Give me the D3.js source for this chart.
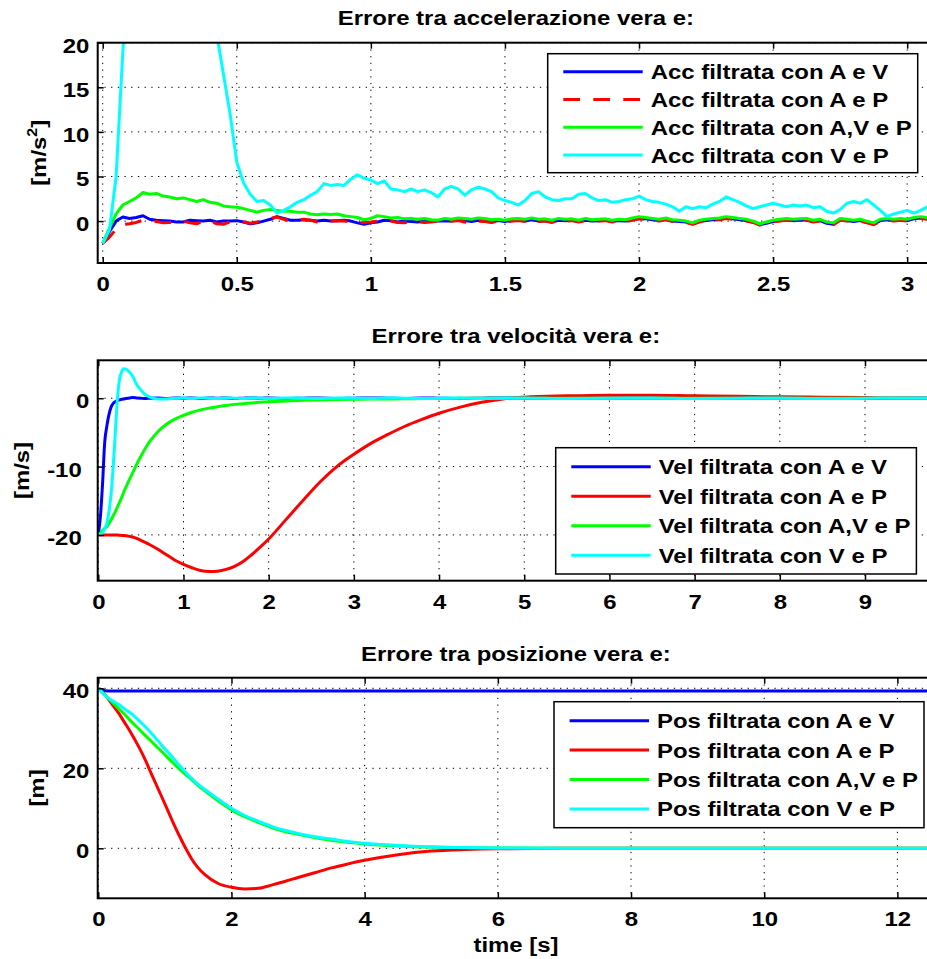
<!DOCTYPE html>
<html><head><meta charset="utf-8">
<script src="https://cdn.jsdelivr.net/npm/d3@7"></script>
<style>
body{margin:0;background:#fff}
svg{display:block}
text{font-family:"Liberation Sans",Arial,Helvetica,sans-serif;font-weight:bold;fill:#000}
</style></head><body>
<svg id="chart" width="927" height="959"></svg>
<script>
// ---------- DATA ----------
const seriesColors = ["#0000ff","#ff0000","#00ff00","#00ffff"];
const titles = ["Errore tra accelerazione vera e:","Errore tra velocità vera e:","Errore tra posizione vera e:"];
const accNames = ["Acc filtrata con A e V","Acc filtrata con A e P","Acc filtrata con A,V e P","Acc filtrata con V e P"];
const velNames = ["Vel filtrata con A e V","Vel filtrata con A e P","Vel filtrata con A,V e P","Vel filtrata con V e P"];
const posNames = ["Pos filtrata con A e V","Pos filtrata con A e P","Pos filtrata con A,V e P","Pos filtrata con V e P"];

const accXTicks = [0,0.5,1,1.5,2,2.5,3];
const accXLabels = ["0","0.5","1","1.5","2","2.5","3"];
const accYTicks = [0,5,10,15,20];
const accYLabels = ["0","5","10","15","20"];
const velXTicks = [0,1,2,3,4,5,6,7,8,9];
const velXLabels = ["0","1","2","3","4","5","6","7","8","9"];
const velYTicks = [-20,-10,0];
const velYLabels = ["-20","-10","0"];
const posXTicks = [0,2,4,6,8,10,12];
const posXLabels = ["0","2","4","6","8","10","12"];
const posYTicks = [0,20,40];
const posYLabels = ["0","20","40"];

const accT = [0,0.025,0.05,0.075,0.1,0.125,0.15,0.175,0.2,0.225,
0.25,0.275,0.3,0.325,0.35,0.375,0.4,0.425,0.45,0.475,
0.5,0.525,0.55,0.575,0.6,0.625,0.65,0.675,0.7,0.725,
0.75,0.775,0.8,0.825,0.85,0.875,0.9,0.925,0.95,0.975,
1,1.025,1.05,1.075,1.1,1.125,1.15,1.175,1.2,1.225,
1.25,1.275,1.3,1.325,1.35,1.375,1.4,1.425,1.45,1.475,
1.5,1.525,1.55,1.575,1.6,1.625,1.65,1.675,1.7,1.725,
1.75,1.775,1.8,1.825,1.85,1.875,1.9,1.925,1.95,1.975,
2,2.025,2.05,2.075,2.1,2.125,2.15,2.175,2.2,2.225,
2.25,2.275,2.3,2.325,2.35,2.375,2.4,2.425,2.45,2.475,
2.5,2.525,2.55,2.575,2.6,2.625,2.65,2.675,2.7,2.725,
2.75,2.775,2.8,2.825,2.85,2.875,2.9,2.925,2.95,2.975,
3,3.025,3.05,3.075,3.1,3.125];
const accAV = [-2.5,-1.2,0.0,0.45,0.3,0.4,0.6,0.2,0.1,0.05,
0.0,-0.1,-0.1,0.1,0.05,0.0,0.1,-0.1,0.0,0.0,
0.05,-0.1,-0.3,-0.2,0.0,0.2,0.5,0.3,0.1,0.1,
0.15,0.1,0.0,0.1,0.0,0.05,0.1,0.0,-0.2,-0.35,
-0.2,-0.1,0.1,0.05,-0.1,0.0,-0.05,-0.1,0.0,-0.05,
0.0,0.05,0.0,0.1,0.05,-0.05,0.1,0.0,-0.1,0.05,
-0.05,0.05,0.1,0.0,0.15,0.0,0.05,-0.1,0.1,0.05,
0.1,-0.05,0.1,0.0,0.05,0.1,-0.05,0.05,0.0,0.15,
0.3,0.25,0.15,0.05,0.2,0.0,-0.05,-0.1,-0.3,-0.05,
0.05,0.15,0.2,0.35,0.25,0.15,0.05,-0.1,-0.4,-0.25,
-0.05,0.05,0.15,0.05,0.1,0.15,-0.05,0.05,-0.25,-0.35,
0.15,0.05,-0.05,0.05,-0.15,-0.35,0.05,0.15,0.05,0.15,
0.05,0.25,0.35,0.25,0.25,0.25];
const accAP = [-2.5,-1.8,-0.9,-0.4,-0.3,-0.15,0.1,0.0,-0.05,-0.2,
-0.15,-0.1,0.0,-0.2,-0.3,-0.05,0.0,-0.3,-0.35,-0.1,
0.0,-0.1,-0.25,-0.1,0.1,0.3,0.45,0.2,0.0,0.1,
0.2,0.1,-0.1,-0.05,0.0,0.05,0.0,-0.1,-0.2,-0.15,
-0.1,0.0,0.15,0.0,-0.15,-0.2,-0.05,-0.1,-0.15,-0.1,
0.0,-0.05,0.0,0.05,-0.1,-0.3,0.0,-0.05,-0.15,0.0,
-0.1,0.0,0.05,-0.05,0.1,-0.05,0.0,-0.15,0.05,0.0,
0.05,-0.1,0.05,-0.05,0.0,0.05,-0.1,0.0,-0.05,0.1,
0.25,0.2,0.1,0.0,0.15,-0.05,-0.1,-0.15,-0.35,-0.1,
0.0,0.1,0.15,0.3,0.2,0.1,0.0,-0.15,-0.45,-0.3,
-0.1,0.0,0.1,0.0,0.05,0.1,-0.1,0.0,-0.3,-0.4,
0.1,0.0,-0.1,0.0,-0.2,-0.4,0.0,0.1,0.0,0.1,
0.0,0.2,0.3,0.2,0.2,0.2];
const accAVP = [-2.5,-0.8,0.8,1.8,2.2,2.6,3.2,3.0,3.1,2.8,
2.7,2.5,2.6,2.4,2.2,2.4,2.1,2.0,1.7,1.6,
1.55,1.4,1.2,1.0,1.2,1.3,1.2,1.1,1.1,1.0,
1.0,0.8,0.7,0.8,0.75,0.8,0.6,0.5,0.4,0.15,
0.3,0.6,0.5,0.35,0.4,0.25,0.3,0.2,0.3,0.15,
0.1,0.3,0.2,0.35,0.3,0.2,0.35,0.3,0.15,0.2,
0.1,0.25,0.3,0.2,0.35,0.2,0.25,0.1,0.3,0.2,
0.25,0.1,0.3,0.15,0.2,0.25,0.1,0.2,0.15,0.35,
0.5,0.4,0.3,0.2,0.35,0.15,0.1,0.0,-0.2,0.1,
0.2,0.3,0.35,0.5,0.4,0.3,0.2,0.0,-0.3,-0.1,
0.1,0.2,0.3,0.2,0.25,0.3,0.1,0.2,-0.1,-0.2,
0.3,0.2,0.1,0.2,0.0,-0.2,0.2,0.3,0.2,0.3,
0.2,0.4,0.5,0.4,0.4,0.4];
const accVP = [-2.5,-1.0,5.0,19,30,37,40,42,43,42,
41,39,37,34,31,28,25,21,16.5,12.0,
6.6,4.3,3.0,2.2,2.3,1.8,0.9,1.2,1.6,2.1,
2.4,2.9,3.3,4.2,4.0,4.1,4.0,4.7,5.2,4.8,
4.6,4.2,4.5,3.6,3.5,3.3,3.6,3.3,3.5,3.2,
2.7,3.6,3.9,3.6,2.9,3.5,3.8,3.6,3.3,2.6,
2.3,2.1,1.8,2.3,3.1,3.3,2.7,2.4,2.3,2.5,
2.5,3.0,3.1,2.6,2.3,2.4,2.1,2.2,2.4,2.5,
2.8,2.4,2.2,2.1,1.9,1.6,1.1,1.6,1.4,1.6,
1.5,1.9,2.2,2.7,2.4,2.1,1.7,1.4,1.6,1.8,
2.0,1.8,1.6,1.8,1.7,1.8,1.5,1.6,1.1,0.9,
1.3,2.0,2.2,2.0,2.4,1.8,1.2,0.5,0.8,1.0,
1.2,0.9,1.2,1.6,2.0,2.2];

const velT = [0,0.025,0.05,0.075,0.1,0.125,0.15,0.175,0.2,0.225,
0.25,0.275,0.3,0.325,0.35,0.4,0.45,0.5,0.55,0.6,
0.7,0.8,0.9,1.0,1.1,1.2,1.3,1.4,1.5,1.6,
1.7,1.8,1.9,2.0,2.2,2.4,2.6,2.8,3.0,3.2,
3.4,3.6,3.8,4.0,4.25,4.5,4.75,5.0,5.5,6.0,
6.5,7.0,7.5,8.0,8.5,9.0,9.5,9.8];
const velAV = [-20,-17.3,-12.5,-6.5,-4.1,-2.4,-1.3,-0.75,-0.5,-0.35,
-0.25,-0.15,-0.1,-0.05,0.0,0.1,0.05,0.0,-0.05,0.0,
0.05,-0.05,0.05,0.0,0.05,-0.05,0.05,0.0,0.05,-0.05,
0.0,0.05,0.0,0.05,-0.05,0.0,0.05,-0.05,0.0,0.05,
0.0,-0.05,0.05,0.0,-0.05,0.0,0.05,0.0,-0.05,0.0,
0.05,-0.05,0.0,0.05,0.0,-0.05,0.0,0.0];
const velAP = [-20,-20,-20,-20,-20,-20,-20,-20,-20.02,-20.03,
-20.05,-20.07,-20.1,-20.13,-20.18,-20.3,-20.5,-20.8,-21.1,-21.4,
-22.1,-22.9,-23.7,-24.3,-24.8,-25.2,-25.35,-25.3,-25.05,-24.6,
-23.9,-22.9,-21.8,-20.6,-17.8,-15.0,-12.3,-10.0,-8.2,-6.6,
-5.3,-4.1,-3.1,-2.2,-1.3,-0.6,-0.1,0.15,0.35,0.45,
0.45,0.35,0.28,0.2,0.15,0.1,0.05,0.03];
const velAVP = [-20,-19.7,-19.35,-19.05,-18.8,-18.3,-17.8,-17.2,-16.6,-15.9,
-15.2,-14.5,-13.7,-13.0,-12.3,-11.0,-9.7,-8.5,-7.4,-6.4,
-4.9,-3.8,-3.05,-2.5,-2.05,-1.7,-1.45,-1.25,-1.05,-0.9,
-0.8,-0.7,-0.6,-0.5,-0.4,-0.3,-0.25,-0.2,-0.15,-0.12,
-0.1,-0.08,-0.05,-0.04,-0.02,0.0,0.0,0.0,0.0,0.0,
0.0,0.0,0.0,0.0,0.0,0.0,0.0,0.0];
const velVP = [-20,-19.9,-19.7,-19.1,-18.3,-16.6,-14.0,-10.0,-5.0,0.0,
2.8,3.9,4.3,4.25,4.0,3.3,2.0,1.2,0.55,0.2,
-0.1,-0.1,0.0,0.05,-0.05,0.05,0.0,-0.05,0.05,0.0,
-0.05,0.05,0.0,-0.05,0.05,0.0,-0.05,0.05,0.0,-0.05,
0.05,0.0,-0.05,0.0,0.05,-0.05,0.0,0.05,-0.05,0.0,
0.05,-0.05,0.0,0.05,-0.05,0.0,0.05,0.0];

const posT = [0,0.1,0.2,0.3,0.4,0.5,0.6,0.7,0.8,0.9,
1.0,1.1,1.2,1.3,1.4,1.5,1.6,1.8,2.0,2.2,
2.4,2.6,2.8,3.0,3.25,3.5,3.75,4.0,4.5,5.0,
5.5,6.0,7.0,8.0,9.0,10.0,11.0,12.0,12.6];
const posAV = [40,39.4,39.3,39.3,39.3,39.3,39.3,39.3,39.3,39.3,
39.3,39.3,39.3,39.3,39.3,39.3,39.3,39.3,39.3,39.3,
39.3,39.3,39.3,39.3,39.3,39.3,39.3,39.3,39.3,39.3,
39.3,39.3,39.3,39.3,39.3,39.3,39.3,39.3,39.3];
const posAP = [40,38.3,36.2,33.9,31.3,28.6,25.6,22.3,18.5,14.8,
11.1,7.3,3.7,0.4,-2.6,-4.9,-6.6,-8.8,-9.75,-10.15,
-10.0,-9.2,-8.3,-7.3,-6.1,-4.9,-3.9,-3.0,-1.6,-0.7,
-0.3,-0.1,0,0,0,0,0,0,0];
const posAVP = [40,38.3,36.7,35.0,33.4,31.6,30.0,28.3,26.7,25.0,
23.4,21.7,20.1,18.6,17.2,15.7,14.4,11.9,9.6,7.9,
6.5,5.2,4.2,3.5,2.7,2.0,1.5,1.1,0.6,0.3,
0.15,0.07,0.02,0,0,0,0,0,0];
const posVP = [40,38.2,37.0,36.0,34.8,33.6,32.1,30.5,28.7,26.8,
24.9,23.0,21.1,19.2,17.5,16.0,14.7,12.3,10.0,8.2,
6.8,5.5,4.5,3.7,2.9,2.3,1.7,1.25,0.7,0.35,
0.17,0.08,0.02,0,0,0,0,0,0];

// ---------- LAYOUT ----------
const svg = d3.select("#chart");
const L = 97.7, R = 934;
const FS = 21, SX = 1.14;

const panels = [
  {top:42.7, bottom:263, xDom:[-0.0187,3.1], yDom:[-4.7,20],
   xTicks:accXTicks, xLabels:accXLabels, yTicks:accYTicks, yLabels:accYLabels,
   t:accT, series:[accAV,accAP,accAVP,accVP], names:accNames, dashed:[false,true,false,false],
   title:titles[0], titleY:25, ylab:"acc", ylabX:45.5,
   legend:{x:547.7, y:53.7, first:18, step:27.8, h:119}, curve:d3.curveLinear},
  {top:360.3, bottom:580.7, xDom:[-0.007,9.81], yDom:[-26.7,5.55],
   xTicks:velXTicks, xLabels:velXLabels, yTicks:velYTicks, yLabels:velYLabels,
   t:velT, series:[velAV,velAP,velAVP,velVP], names:velNames, dashed:[false,false,false,false],
   title:titles[1], titleY:342.5, ylab:"[m/s]", ylabX:29,
   legend:{x:555.7, y:447.7, first:19, step:29.5, h:126.3}, curve:d3.curveMonotoneX},
  {top:677.7, bottom:898.3, xDom:[-0.009,12.55], yDom:[-12.5,42.65],
   xTicks:posXTicks, xLabels:posXLabels, yTicks:posYTicks, yLabels:posYLabels,
   t:posT, series:[posAV,posAP,posAVP,posVP], names:posNames, dashed:[false,false,false,false],
   title:titles[2], titleY:660.5, ylab:"[m]", ylabX:44,
   legend:{x:554, y:701.7, first:19, step:29.4, h:126}, curve:d3.curveMonotoneX}
];

function styleText(sel){
  sel.attr("font-family",'"Liberation Sans",Arial,sans-serif').attr("font-weight","bold")
     .attr("font-size",FS).attr("fill","#000");
  return sel;
}
// text placed at (px,py), widened horizontally like the original rendering
function wideText(parent, px, py, anchor, str, rot){
  const t = parent.append("text")
    .attr("transform",`translate(${px},${py})${rot?` rotate(${rot})`:""} scale(${SX},1)`)
    .attr("text-anchor",anchor).text(str);
  return styleText(t);
}

panels.forEach((p,pi)=>{
  const x = d3.scaleLinear().domain(p.xDom).range([L,R]);
  const y = d3.scaleLinear().domain(p.yDom).range([p.bottom,p.top]);
  const g = svg.append("g");
  const clipId = "clip"+pi;
  svg.append("clipPath").attr("id",clipId).append("rect")
    .attr("x",L).attr("y",p.top).attr("width",R-L).attr("height",p.bottom-p.top);

  // grid
  const grid = g.append("g").attr("stroke","#000").attr("stroke-width",1).attr("stroke-dasharray","1.3,5.4");
  grid.selectAll("line.gx").data(p.xTicks).join("line").attr("class","gx")
    .attr("x1",d=>x(d)).attr("x2",d=>x(d)).attr("y1",p.top).attr("y2",p.bottom);
  grid.selectAll("line.gy").data(p.yTicks).join("line").attr("class","gy")
    .attr("x1",L).attr("x2",R).attr("y1",d=>y(d)).attr("y2",d=>y(d));

  // series
  const line = d3.line().x((d,i)=>x(p.t[i])).y(d=>y(d)).curve(p.curve);
  const lg = g.append("g").attr("clip-path",`url(#${clipId})`);
  p.series.forEach((s,k)=>{
    lg.append("path").attr("d",line(s)).attr("fill","none")
      .attr("stroke",seriesColors[k]).attr("stroke-width",3)
      .attr("stroke-linejoin","round").attr("stroke-linecap","butt")
      .attr("stroke-dasharray",p.dashed[k]?"16.7,13.3":null);
  });

  // axes
  const xb = g.append("g").attr("transform",`translate(0,${p.bottom})`)
    .call(d3.axisBottom(x).tickValues(p.xTicks).tickFormat((d,i)=>p.xLabels[i]).tickSizeInner(-6).tickSizeOuter(0).tickPadding(13));
  const xt = g.append("g").attr("transform",`translate(0,${p.top})`)
    .call(d3.axisTop(x).tickValues(p.xTicks).tickFormat("").tickSizeInner(-6).tickSizeOuter(0));
  const yl = g.append("g").attr("transform",`translate(${L},0)`)
    .call(d3.axisLeft(y).tickValues(p.yTicks).tickFormat((d,i)=>p.yLabels[i]).tickSizeInner(-6).tickSizeOuter(0).tickPadding(8.4/SX));
  const yr = g.append("g").attr("transform",`translate(${R},0)`)
    .call(d3.axisRight(y).tickValues(p.yTicks).tickFormat("").tickSizeInner(-6).tickSizeOuter(0));
  [xb,xt,yl,yr].forEach(a=>{
    a.select(".domain").remove();
    a.selectAll(".tick line").attr("stroke","#000").attr("stroke-width",1.5);
  });
  styleText(xb.selectAll("text")).attr("transform",`scale(${SX},1)`);
  styleText(yl.selectAll("text").attr("dy","0.45em"))
    .attr("transform",d=> d<0 ? `translate(-7.6,0) scale(${SX},1)` : `scale(${SX},1)`);
  g.append("rect").attr("x",L).attr("y",p.top).attr("width",R-L).attr("height",p.bottom-p.top)
    .attr("fill","none").attr("stroke","#000").attr("stroke-width",2);

  // title
  wideText(g,(L+R)/2,p.titleY,"middle",p.title);

  // y label
  const cy = (p.top+p.bottom)/2;
  if(p.ylab==="acc"){
    const yt = wideText(g,p.ylabX,cy,"middle","",-90);
    yt.append("tspan").text("[m/s");
    yt.append("tspan").attr("font-size",14).attr("dy",-9).text("2");
    yt.append("tspan").attr("dy",9).text("]");
  } else wideText(g,p.ylabX,cy,"middle",p.ylab,-90);

  // legend
  const lgd = g.append("g");
  const box = lgd.append("rect").attr("x",p.legend.x).attr("y",p.legend.y).attr("height",p.legend.h)
    .attr("fill","#fff").attr("stroke","#000").attr("stroke-width",1.5);
  let maxR = 0;
  p.names.forEach((nm,k)=>{
    const cyk = p.legend.y + p.legend.first + k*p.legend.step;
    lgd.append("line").attr("x1",p.legend.x+15.6).attr("x2",p.legend.x+95)
      .attr("y1",cyk).attr("y2",cyk).attr("stroke",seriesColors[k]).attr("stroke-width",3)
      .attr("stroke-dasharray",p.dashed[k]?"16.7,13.3":null);
    const tx0 = p.legend.x+103;
    const tx = wideText(lgd,tx0,cyk+7.5,"start",nm);
    const bb = tx.node().getBBox();
    maxR = Math.max(maxR, tx0 + bb.width*SX);
  });
  box.attr("width", maxR + 6 - p.legend.x);
});

// x axis label
wideText(svg,516,952,"middle","time [s]");
</script>
</body></html>
